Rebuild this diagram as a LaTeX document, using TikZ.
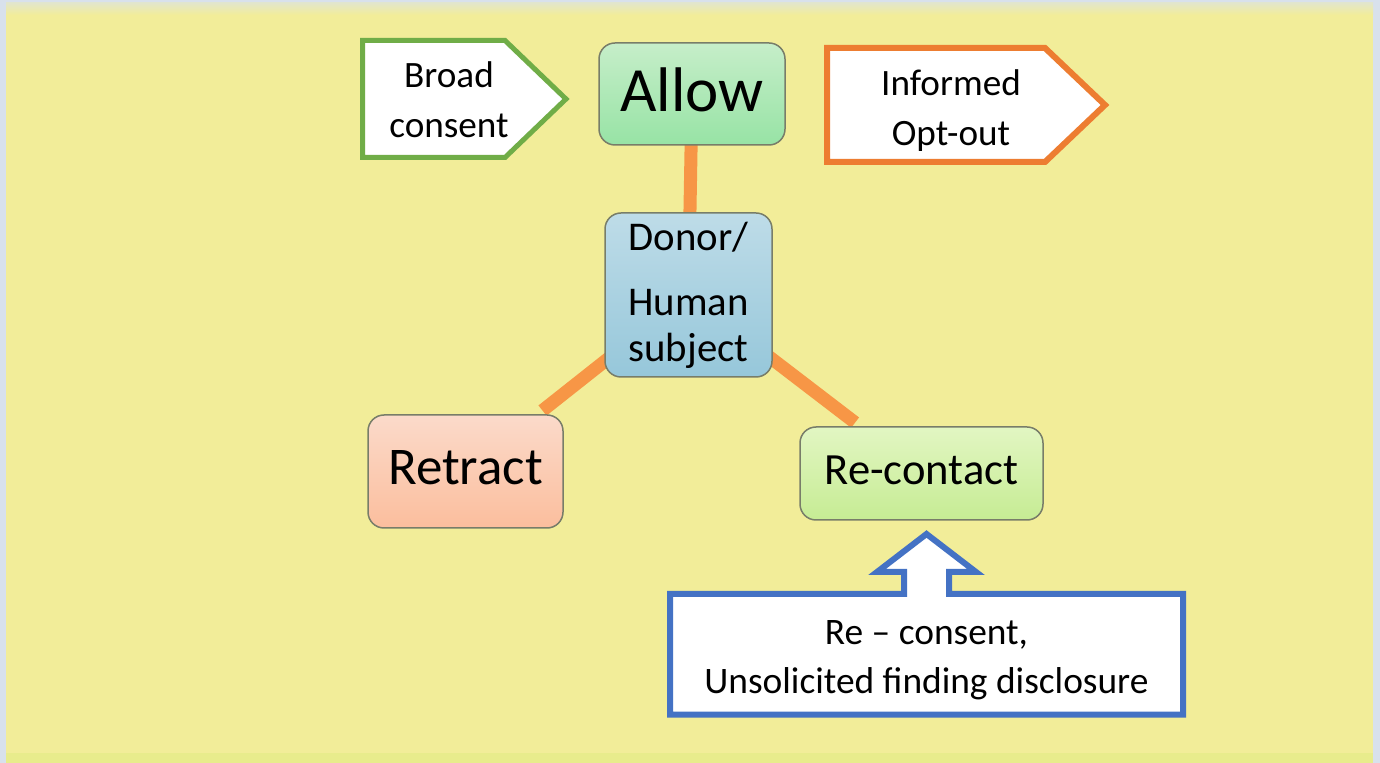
\documentclass[tikz,border=0pt]{standalone}
\usepackage{fontspec}
\setmainfont{Carlito}
\usetikzlibrary{positioning,backgrounds}
\definecolor{bgyellow}{RGB}{242,237,153}
\definecolor{bgframe}{RGB}{216,225,236}
\definecolor{bgstrip}{RGB}{232,236,140}
\definecolor{linkorange}{RGB}{247,150,70}
\definecolor{taggreen}{RGB}{112,173,71}
\definecolor{tagorange}{RGB}{237,125,49}
\definecolor{tagblue}{RGB}{68,114,196}
\definecolor{boxline}{RGB}{120,125,105}
\definecolor{allowtop}{RGB}{198,238,201}
\definecolor{allowbot}{RGB}{151,227,165}
\definecolor{donortop}{RGB}{190,220,232}
\definecolor{donorbot}{RGB}{150,199,218}
\definecolor{retracttop}{RGB}{251,218,202}
\definecolor{retractbot}{RGB}{251,190,157}
\definecolor{contacttop}{RGB}{226,246,194}
\definecolor{contactbot}{RGB}{198,236,148}
\tikzset{>=latex}

\begin{document}
\begin{tikzpicture}[x=0.5pt,y=-0.5pt]
        \tikzset{
        box/.style={rounded corners=8pt, draw=boxline, line width=0.75pt, align=center, inner sep=0pt},
        link/.style={draw=linkorange, line width=6.5pt},
        tag/.style={fill=white, line join=miter},
        tagtext/.style={align=center, inner sep=0pt, font=\fontsize{18.6}{25}\selectfont},
        }

        \useasboundingbox (0,0) rectangle (1380,763);

        % Boxes.
        \path (692,94)      node[box, minimum width=93pt, minimum height=51pt, top color=allowtop, bottom color=allowbot,
                                 text height=18pt, text depth=0pt, font=\fontsize{31.5}{36}\selectfont] (allow) {Allow};
        \path (688.5,295)   node[box, minimum width=83.5pt, minimum height=82pt, top color=donortop, bottom color=donorbot,
                                 font=\fontsize{20.4}{23}\selectfont] (donor) {Donor/\\[9.5pt]Human\\subject};
        \path (465.5,471.5) node[box, minimum width=97.5pt, minimum height=56.5pt, top color=retracttop, bottom color=retractbot,
                                 text height=13.5pt, text depth=0pt, font=\fontsize{26.5}{30}\selectfont] (retract) {Retract};
        \path (921.5,473.5) node[box, minimum width=121.5pt, minimum height=46.5pt, top color=contacttop, bottom color=contactbot,
                                 text height=11.5pt, text depth=0pt, font=\fontsize{22.3}{26}\selectfont] (recontact) {Re-contact};

        % Tags.
        \draw[tag, draw=taggreen, line width=2.5pt] (362.5,40.5) -- (505,40.5) -- (566,99) -- (505,157.5) -- (362.5,157.5) -- cycle;
        \path (449,100) node[tagtext] (broad) {Broad\\consent};

        \draw[tag, draw=tagorange, line width=3pt] (827,48) -- (1045,48) -- (1105,105) -- (1045,162) -- (827,162) -- cycle;
        \path (951,111) node[tagtext] (optout) {Informed\\Opt-out};

        \draw[tag, draw=tagblue, line width=3pt] (670,594) -- (904,594) -- (904,572) -- (877,572) -- (926.5,534)
              -- (976,572) -- (949,572) -- (949,594) -- (1183,594) -- (1183,714.5) -- (670,714.5) -- cycle;
        \path (926.5,660) node[tagtext, font=\fontsize{18.7}{24.5}\selectfont] (reconsent) {Re – consent,\\Unsolicited finding disclosure};

        \begin{scope}[on background layer]
        % Slide.
        \fill[bgframe] (0,0) rectangle (1380,763);
        \fill[bgyellow] (6,3) rectangle (1373,763);
        \shade[top color=bgframe!60!bgyellow, bottom color=bgyellow] (6,3) rectangle (1373,15);
        \fill[bgstrip] (6,753) rectangle (1373,763);

        % Links.
        \draw[link] (allow.center) -- (donor.center);
        \draw[link, shorten >=3pt] (donor.center) -- (retract);
        \draw[link, shorten >=3pt] (donor.center) -- (recontact);
        \end{scope}
\end{tikzpicture}
\end{document}
